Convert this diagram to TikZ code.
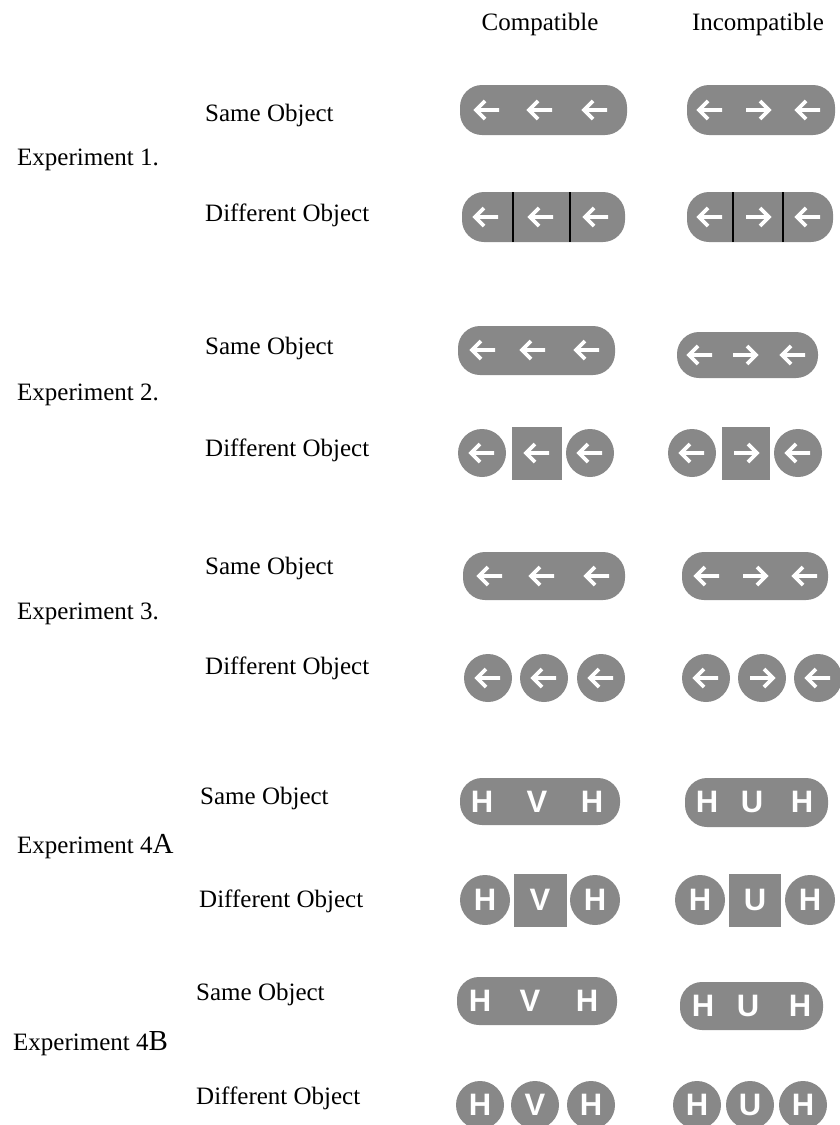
\documentclass[tikz,border=0pt]{standalone}
\usepackage{fontspec}
\setmainfont{Liberation Serif}
\newfontfamily\letterfont{Liberation Sans}
\definecolor{shapegray}{RGB}{136,136,136}
\tikzset{
  shapefill/.style={fill=shapegray, draw=none},
  pill/.style={shapefill, rounded corners=22pt},
  divider/.style={draw=black, line width=2pt},
  arrowline/.style={draw=white, line width=3.8pt, line join=miter},
  rowlabel/.style={anchor=base west, inner sep=0pt, font=\fontsize{25}{30}\selectfont},
  header/.style={anchor=base, inner sep=0pt, font=\fontsize{25}{30}\selectfont},
  letter/.style={anchor=center, inner sep=0pt, text=white, font=\letterfont\bfseries\fontsize{31}{31}\selectfont},
  larr/.pic={\draw[arrowline] (12,0) -- (-11,0) (-2,-9) -- (-11,0) -- (-2,9);}
}
\begin{document}
\begin{tikzpicture}[x=1pt,y=-1pt]
\fill[white] (0,0) rectangle (839,1125);
\useasboundingbox (0,0) rectangle (839,1125);

% headers
\node[header] (hc) at (540,30) {Compatible};
\node[header] (hi) at (758,30) {Incompatible};

% left labels
\node[rowlabel] (e1) at (17,165) {Experiment 1.};
\node[rowlabel] (s1) at (205,121) {Same Object};
\node[rowlabel] (d1) at (205,221) {Different Object};

\node[rowlabel] (e2) at (17,400) {Experiment 2.};
\node[rowlabel] (s2) at (205,354) {Same Object};
\node[rowlabel] (d2) at (205,456) {Different Object};

\node[rowlabel] (e3) at (17,619) {Experiment 3.};
\node[rowlabel] (s3) at (205,574) {Same Object};
\node[rowlabel] (d3) at (205,674) {Different Object};

\node[rowlabel] (e4a) at (17,853) {Experiment 4{\fontsize{29}{30}\selectfont A}};
\node[rowlabel] (s4a) at (200,804) {Same Object};
\node[rowlabel] (d4a) at (199,907) {Different Object};

\node[rowlabel] (e4b) at (13,1050) {Experiment 4{\fontsize{29}{30}\selectfont B}};
\node[rowlabel] (s4b) at (196,1000) {Same Object};
\node[rowlabel] (d4b) at (196,1104) {Different Object};

% ---------- Experiment 1 ----------
\fill[pill] (460,85) rectangle (627,135);
\pic at (487,110) {larr}; \pic at (540,110) {larr}; \pic at (595,110) {larr};
\fill[pill] (687,85) rectangle (835,135);
\pic at (710,110) {larr}; \pic[xscale=-1] at (758,110) {larr}; \pic at (808,110) {larr};

\fill[pill] (462,192) rectangle (625,242);
\draw[divider] (513,192) -- (513,242); \draw[divider] (570,192) -- (570,242);
\pic at (486,217) {larr}; \pic at (541,217) {larr}; \pic at (596,217) {larr};
\fill[pill] (687,192) rectangle (833,242);
\draw[divider] (733,192) -- (733,242); \draw[divider] (783,192) -- (783,242);
\pic at (710,217) {larr}; \pic[xscale=-1] at (758,217) {larr}; \pic at (808,217) {larr};

% ---------- Experiment 2 ----------
\fill[pill] (458,326) rectangle (615,375);
\pic at (483,350) {larr}; \pic at (533,350) {larr}; \pic at (587,350) {larr};
\fill[pill] (677,332) rectangle (818,378);
\pic at (700,355) {larr}; \pic[xscale=-1] at (745,355) {larr}; \pic at (793,355) {larr};

\fill[shapefill] (482,453) circle (24pt);
\fill[shapefill] (512,427) rectangle (562,480);
\fill[shapefill] (590,453) circle (24pt);
\pic at (482,453) {larr}; \pic at (537,453) {larr}; \pic at (590,453) {larr};
\fill[shapefill] (692,453) circle (24pt);
\fill[shapefill] (722,427) rectangle (770,480);
\fill[shapefill] (798,453) circle (24pt);
\pic at (692,453) {larr}; \pic[xscale=-1] at (746,453) {larr}; \pic at (798,453) {larr};

% ---------- Experiment 3 ----------
\fill[pill] (463,552) rectangle (625,600);
\pic at (490,576) {larr}; \pic at (542,576) {larr}; \pic at (597,576) {larr};
\fill[pill] (682,552) rectangle (828,600);
\pic at (707,576) {larr}; \pic[xscale=-1] at (755,576) {larr}; \pic at (805,576) {larr};

\fill[shapefill] (488,678) circle (24pt);
\fill[shapefill] (544,678) circle (24pt);
\fill[shapefill] (601,678) circle (24pt);
\pic at (488,678) {larr}; \pic at (544,678) {larr}; \pic at (601,678) {larr};
\fill[shapefill] (706,678) circle (24pt);
\fill[shapefill] (762,678) circle (24pt);
\fill[shapefill] (818,678) circle (24pt);
\pic at (706,678) {larr}; \pic[xscale=-1] at (762,678) {larr}; \pic at (818,678) {larr};

% ---------- Experiment 4A ----------
\fill[pill] (460,778) rectangle (620,825);
\node[letter] (a1) at (482,802) {H}; \node[letter] (a2) at (537,802) {V}; \node[letter] (a3) at (592,802) {H};
\fill[pill] (685,778) rectangle (828,827);
\node[letter] (a4) at (707,802) {H}; \node[letter] (a5) at (752,802) {U}; \node[letter] (a6) at (802,802) {H};

\fill[shapefill] (485,900) circle (25pt);
\fill[shapefill] (514,874) rectangle (567,927);
\fill[shapefill] (595,900) circle (25pt);
\node[letter] (b1) at (485,900) {H}; \node[letter] (b2) at (540,900) {V}; \node[letter] (b3) at (595,900) {H};
\fill[shapefill] (700,900) circle (25pt);
\fill[shapefill] (729,874) rectangle (781,927);
\fill[shapefill] (810,900) circle (25pt);
\node[letter] (b4) at (700,900) {H}; \node[letter] (b5) at (755,900) {U}; \node[letter] (b6) at (810,900) {H};

% ---------- Experiment 4B ----------
\fill[pill] (457,977) rectangle (617,1025);
\node[letter] (c1) at (480,1001) {H}; \node[letter] (c2) at (530,1001) {V}; \node[letter] (c3) at (587,1001) {H};
\fill[pill] (680,982) rectangle (823,1030);
\node[letter] (c4) at (703,1006) {H}; \node[letter] (c5) at (748,1006) {U}; \node[letter] (c6) at (800,1006) {H};

\fill[shapefill] (480,1105) circle (24pt);
\fill[shapefill] (535,1105) circle (24pt);
\fill[shapefill] (591,1105) circle (24pt);
\node[letter] (f1) at (480,1105) {H}; \node[letter] (f2) at (535,1105) {V}; \node[letter] (f3) at (591,1105) {H};
\fill[shapefill] (697,1105) circle (24pt);
\fill[shapefill] (750,1105) circle (24pt);
\fill[shapefill] (803,1105) circle (24pt);
\node[letter] (f4) at (697,1105) {H}; \node[letter] (f5) at (750,1105) {U}; \node[letter] (f6) at (803,1105) {H};
\end{tikzpicture}
\end{document}
